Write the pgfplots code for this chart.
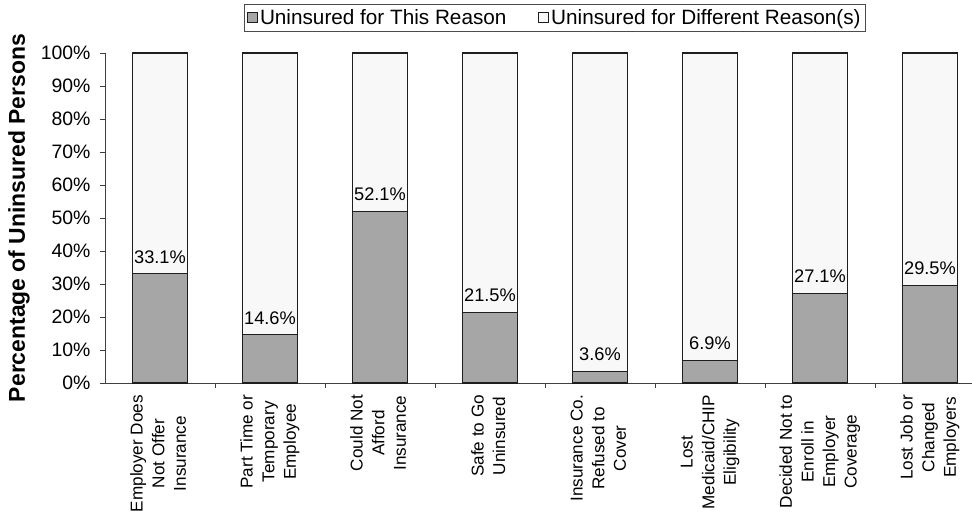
\documentclass[border=0pt]{standalone}
\usepackage{fontspec}
\setmainfont{Liberation Sans}
\usepackage{pgfplots}
\pgfplotsset{compat=1.18}
\usetikzlibrary{calc}
\definecolor{thisreason}{RGB}{166,166,166}
\definecolor{otherreason}{RGB}{248,248,248}
\definecolor{edgegray}{RGB}{30,30,30}

\newcommand{\lbl}[1]{\begin{tabular}{@{}c@{}}#1\end{tabular}}

\begin{document}
\begin{tikzpicture}
\begin{axis}[
    ybar,
    bar shift=0pt,
    scale only axis,
    width=867bp,
    height=330bp,
    xmin=-0.5, xmax=7.382,
    ymin=0, ymax=100,
    bar width=0.5,
    axis lines*=left,
    axis line style={draw=black!75, line width=0.8bp},
    tick align=outside,
    tick style={draw=black!75, line width=0.8bp},
    major tick length=5bp,
    minor tick length=5bp,
    ytick={0,10,...,100},
    yticklabel={\pgfmathprintnumber{\tick}\%},
    yticklabel style={font=\fontsize{19.5}{21}\selectfont, xshift=-6bp},
    xtick={0,...,7},
    x tick style={draw=none},
    minor xtick={0.5,1.5,...,6.5},
    minor x tick style={draw=black!75, line width=0.8bp},
    xticklabels={
        {\lbl{Employer Does\\Not Offer\\Insurance}},
        {\lbl{Part Time or\\Temporary\\Employee}},
        {\lbl{Could Not\\Afford\\Insurance}},
        {\lbl{Safe to Go\\Uninsured}},
        {\lbl{Insurance Co.\\Refused to\\Cover}},
        {\lbl{Lost\\Medicaid/CHIP\\Eligibility}},
        {\lbl{Decided Not to\\Enroll in\\Employer\\Coverage}},
        {\lbl{Lost Job or\\Changed\\Employers}}},
    xticklabel style={rotate=90, anchor=east,
        font=\fontsize{17.2}{21.7}\selectfont, xshift=-3.5bp},
    /pgf/number format/assume math mode=true,
    ylabel={\textbf{Percentage of Uninsured Persons}},
    ylabel style={at={(axis description cs:-0.0992,0.5)}, anchor=center,
        font=\fontsize{23}{25}\selectfont},
    legend columns=2,
    reverse legend,
    legend style={at={(axis description cs:0.519,1.148)}, anchor=north,
        draw=black!70, line width=0.8bp, inner xsep=3bp, inner ysep=3bp,
        font=\fontsize{20.8}{22}\selectfont,
        /tikz/every even column/.append style={column sep=30bp}},
    legend image code/.code={
        \draw[#1, line width=0.7bp] (0bp,-5bp) rectangle (10bp,5bp);
    },
    clip=false,
]
\addplot[fill=otherreason, draw=edgegray, line width=1.1bp]
    coordinates {(0,100) (1,100) (2,100) (3,100) (4,100) (5,100) (6,100) (7,100)};
\addplot[fill=thisreason, draw=edgegray, line width=1.1bp,
    nodes near coords={\pgfmathprintnumber[fixed,precision=1,zerofill]{\pgfplotspointmeta}\%},
    nodes near coords style={anchor=south, font=\fontsize{18.3}{20}\selectfont, text=black,
        inner sep=2bp, yshift=8bp, /pgf/number format/assume math mode=true}]
    coordinates {(0,33.1) (1,14.6) (2,52.1) (3,21.5) (4,3.6) (5,6.9) (6,27.1) (7,29.5)};
\legend{Uninsured for Different Reason(s), Uninsured for This Reason}
\coordinate (sw) at (rel axis cs:0,0);
\coordinate (ne) at (rel axis cs:1,1);
\end{axis}
\pgfresetboundingbox
\path ($(sw)+(-105bp,-133bp)$) rectangle ($(ne)+(0bp,53bp)$);
\end{tikzpicture}
\end{document}
